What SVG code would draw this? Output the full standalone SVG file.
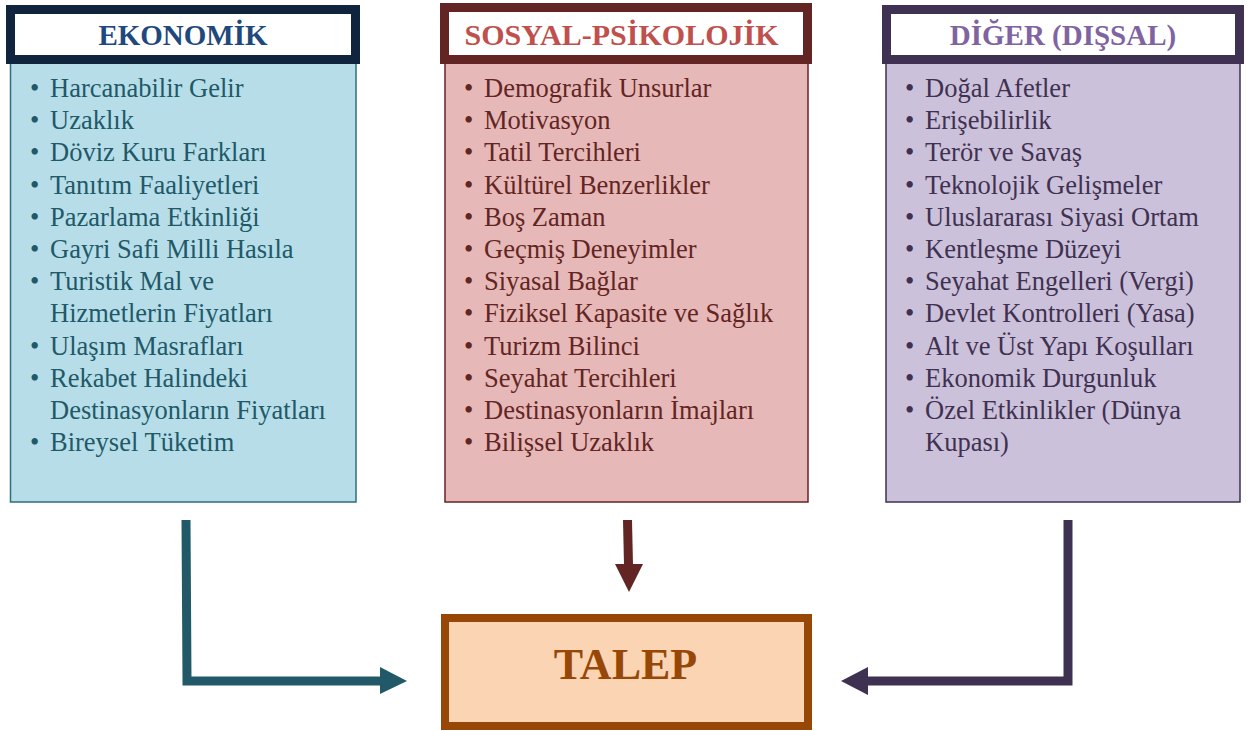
<svg xmlns="http://www.w3.org/2000/svg" width="1248" height="731" viewBox="0 0 1248 731">
<style>
.item{font-family:"Liberation Serif","Times New Roman",serif;font-size:26.5px}
.hdr{font-family:"Liberation Serif","Times New Roman",serif;font-size:29px;font-weight:bold;text-anchor:middle}
.eko{fill:#215968}
.sos{fill:#632523}
.dig{fill:#3F3151}
</style>
<rect width="1248" height="731" fill="#ffffff"/>
<g id="ekonomik">
<rect x="10.5" y="60" width="345.5" height="442" fill="#B7DEE8" stroke="#2E6E80" stroke-width="1.5"/>
<rect x="10.5" y="9.5" width="345" height="50" fill="#ffffff" stroke="#10243E" stroke-width="9"/>
<text class="hdr" x="183" y="45" fill="#1F497D">EKONOMİK</text>
<g class="item eko">
<text x="30" y="97">•</text><text x="50" y="97">Harcanabilir Gelir</text>
<text x="30" y="129.2">•</text><text x="50" y="129.2">Uzaklık</text>
<text x="30" y="161.4">•</text><text x="50" y="161.4">Döviz Kuru Farkları</text>
<text x="30" y="193.6">•</text><text x="50" y="193.6">Tanıtım Faaliyetleri</text>
<text x="30" y="225.8">•</text><text x="50" y="225.8">Pazarlama Etkinliği</text>
<text x="30" y="258">•</text><text x="50" y="258">Gayri Safi Milli Hasıla</text>
<text x="30" y="290.2">•</text><text x="50" y="290.2">Turistik Mal ve</text>
<text x="50" y="322.4">Hizmetlerin Fiyatları</text>
<text x="30" y="354.6">•</text><text x="50" y="354.6">Ulaşım Masrafları</text>
<text x="30" y="386.8">•</text><text x="50" y="386.8">Rekabet Halindeki</text>
<text x="50" y="419">Destinasyonların Fiyatları</text>
<text x="30" y="451.2">•</text><text x="50" y="451.2">Bireysel Tüketim</text>
</g>
</g>
<g id="sosyal">
<rect x="445" y="60" width="363" height="442" fill="#E6B9B8" stroke="#632523" stroke-width="1.5"/>
<rect x="444.5" y="7.5" width="363" height="52" fill="#ffffff" stroke="#632523" stroke-width="9"/>
<text class="hdr" x="621.5" y="45" fill="#C0504D" font-size="30" style="font-size:30px">SOSYAL-PSİKOLOJİK</text>
<g class="item sos">
<text x="464" y="97">•</text><text x="484" y="97">Demografik Unsurlar</text>
<text x="464" y="129.2">•</text><text x="484" y="129.2">Motivasyon</text>
<text x="464" y="161.4">•</text><text x="484" y="161.4">Tatil Tercihleri</text>
<text x="464" y="193.6">•</text><text x="484" y="193.6">Kültürel Benzerlikler</text>
<text x="464" y="225.8">•</text><text x="484" y="225.8">Boş Zaman</text>
<text x="464" y="258">•</text><text x="484" y="258">Geçmiş Deneyimler</text>
<text x="464" y="290.2">•</text><text x="484" y="290.2">Siyasal Bağlar</text>
<text x="464" y="322.4">•</text><text x="484" y="322.4">Fiziksel Kapasite ve Sağlık</text>
<text x="464" y="354.6">•</text><text x="484" y="354.6">Turizm Bilinci</text>
<text x="464" y="386.8">•</text><text x="484" y="386.8">Seyahat Tercihleri</text>
<text x="464" y="419">•</text><text x="484" y="419">Destinasyonların İmajları</text>
<text x="464" y="451.2">•</text><text x="484" y="451.2">Bilişsel Uzaklık</text>
</g>
</g>
<g id="diger">
<rect x="886" y="60" width="354" height="442" fill="#CCC1DA" stroke="#3F3151" stroke-width="1.5"/>
<rect x="886.5" y="9.5" width="353" height="50" fill="#ffffff" stroke="#3F3151" stroke-width="9"/>
<text class="hdr" x="1063" y="45" fill="#8064A2">DİĞER (DIŞSAL)</text>
<g class="item dig">
<text x="905" y="97">•</text><text x="925" y="97">Doğal Afetler</text>
<text x="905" y="129.2">•</text><text x="925" y="129.2">Erişebilirlik</text>
<text x="905" y="161.4">•</text><text x="925" y="161.4">Terör ve Savaş</text>
<text x="905" y="193.6">•</text><text x="925" y="193.6">Teknolojik Gelişmeler</text>
<text x="905" y="225.8">•</text><text x="925" y="225.8">Uluslararası Siyasi Ortam</text>
<text x="905" y="258">•</text><text x="925" y="258">Kentleşme Düzeyi</text>
<text x="905" y="290.2">•</text><text x="925" y="290.2">Seyahat Engelleri (Vergi)</text>
<text x="905" y="322.4">•</text><text x="925" y="322.4">Devlet Kontrolleri (Yasa)</text>
<text x="905" y="354.6">•</text><text x="925" y="354.6">Alt ve Üst Yapı Koşulları</text>
<text x="905" y="386.8">•</text><text x="925" y="386.8">Ekonomik Durgunluk</text>
<text x="905" y="419">•</text><text x="925" y="419">Özel Etkinlikler (Dünya</text>
<text x="925" y="451.2">Kupası)</text>
</g>
</g>
<g id="talep">
<rect x="445" y="618" width="363" height="108" fill="#FBD4B4" stroke="#974806" stroke-width="8"/>
<text x="625.5" y="679" font-family="'Liberation Serif','Times New Roman',serif" font-size="44" font-weight="bold" fill="#974806" text-anchor="middle">TALEP</text>
</g>
<g id="connectors">
<polyline points="186,520 187,681 381,681" fill="none" stroke="#215968" stroke-width="9"/>
<polygon points="380,667 407,681 380,694" fill="#215968"/>
<line x1="627.5" y1="520" x2="628.5" y2="565" stroke="#632523" stroke-width="9"/>
<polygon points="615,564 643,564 629,592" fill="#632523"/>
<polyline points="1068,520 1068,681 867,681" fill="none" stroke="#3F3151" stroke-width="9"/>
<polygon points="868,667 841,681 868,695" fill="#3F3151"/>
</g>
</svg>
